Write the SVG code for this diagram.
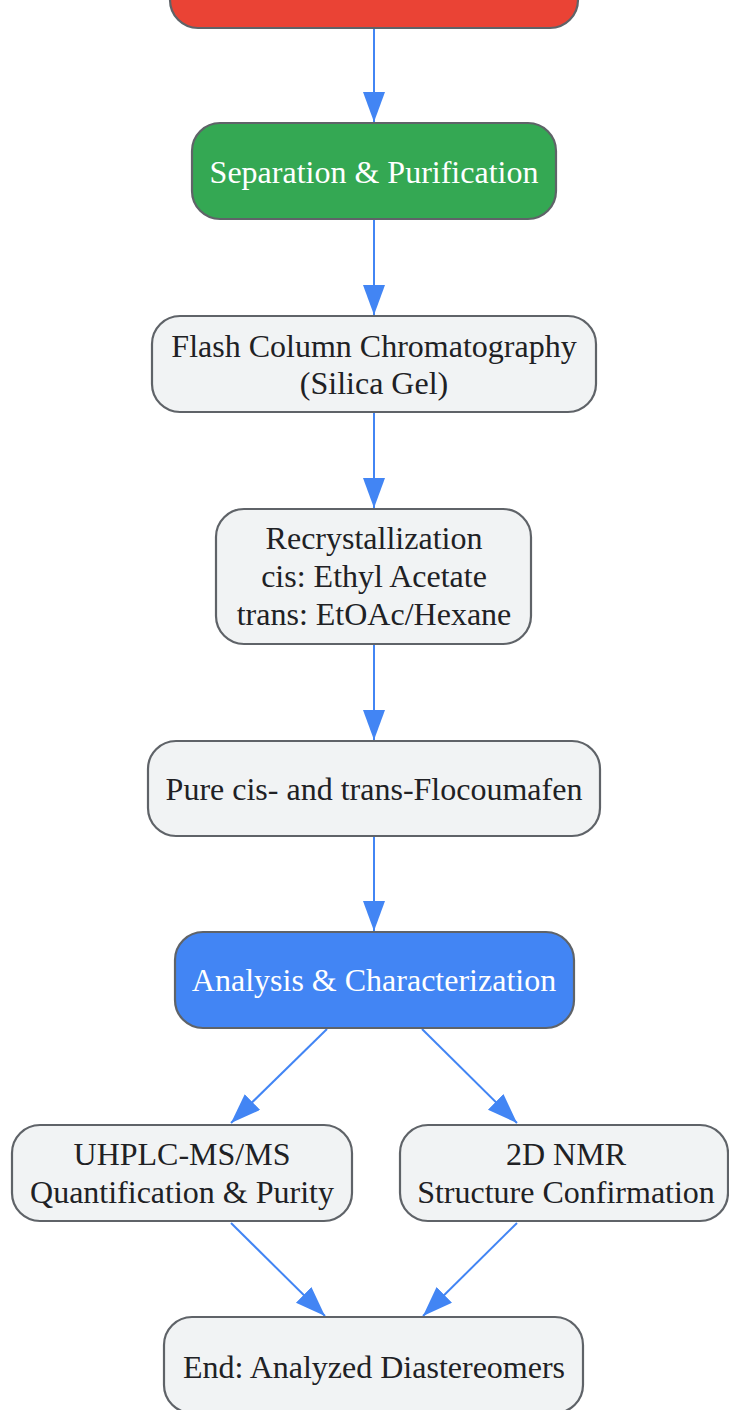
<svg xmlns="http://www.w3.org/2000/svg" width="729" height="1410" viewBox="0 0 729 1410">
<style>
.n{fill:#f1f3f4;stroke:#5f6368;stroke-width:2.2}
.t{font-family:"Liberation Serif","Times New Roman",serif;font-size:32px;fill:#202124;text-anchor:middle}
.w{fill:#ffffff}
.e{stroke:#4285f4;stroke-width:2;fill:none;marker-end:url(#ah)}
</style>
<defs>
<marker id="ah" markerUnits="userSpaceOnUse" markerWidth="31" markerHeight="23" refX="30" refY="11" orient="auto">
<path d="M0,0 L30,11 L0,22 Z" fill="#4285f4"/>
</marker>
</defs>
<rect width="729" height="1410" fill="#ffffff"/>
<g id="edges">
<line class="e" x1="374" y1="29" x2="374" y2="122"/>
<line class="e" x1="374" y1="220" x2="374" y2="315"/>
<line class="e" x1="374" y1="413" x2="374" y2="508"/>
<line class="e" x1="374" y1="645" x2="374" y2="740"/>
<line class="e" x1="374" y1="837" x2="374" y2="931"/>
<line class="e" x1="327" y1="1029" x2="231" y2="1123"/>
<line class="e" x1="422" y1="1029" x2="517" y2="1123"/>
<line class="e" x1="231" y1="1223" x2="325" y2="1316"/>
<line class="e" x1="517" y1="1223" x2="423" y2="1316"/>
</g>
<g id="start">
<rect x="170" y="-68" width="408" height="96" rx="28" fill="#ea4335" stroke="#5f6368" stroke-width="2.2"/>
</g>
<g id="separation">
<rect x="192" y="123" width="364" height="96" rx="28" fill="#34a853" stroke="#5f6368" stroke-width="2.2"/>
<text class="t w" x="374" y="183">Separation &amp; Purification</text>
</g>
<g id="flash">
<rect class="n" x="152" y="316" width="444" height="96" rx="28"/>
<text class="t" x="374" y="357">Flash Column Chromatography</text>
<text class="t" x="374" y="394">(Silica Gel)</text>
</g>
<g id="recryst">
<rect class="n" x="216" y="509" width="315" height="135" rx="28"/>
<text class="t" x="374" y="549">Recrystallization</text>
<text class="t" x="374" y="587">cis: Ethyl Acetate</text>
<text class="t" x="374" y="625">trans: EtOAc/Hexane</text>
</g>
<g id="pure">
<rect class="n" x="148" y="741" width="452" height="95" rx="28"/>
<text class="t" x="374" y="800">Pure cis- and trans-Flocoumafen</text>
</g>
<g id="analysis">
<rect x="175" y="932" width="399" height="96" rx="28" fill="#4285f4" stroke="#5f6368" stroke-width="2.2"/>
<text class="t w" x="374" y="991">Analysis &amp; Characterization</text>
</g>
<g id="uhplc">
<rect class="n" x="12" y="1125" width="340" height="96" rx="28"/>
<text class="t" x="182" y="1165">UHPLC-MS/MS</text>
<text class="t" x="182" y="1203">Quantification &amp; Purity</text>
</g>
<g id="nmr">
<rect class="n" x="400" y="1125" width="328" height="96" rx="28"/>
<text class="t" x="566" y="1165">2D NMR</text>
<text class="t" x="566" y="1203">Structure Confirmation</text>
</g>
<g id="end">
<rect class="n" x="164" y="1317" width="419" height="96" rx="28"/>
<text class="t" x="374" y="1378">End: Analyzed Diastereomers</text>
</g>
</svg>
